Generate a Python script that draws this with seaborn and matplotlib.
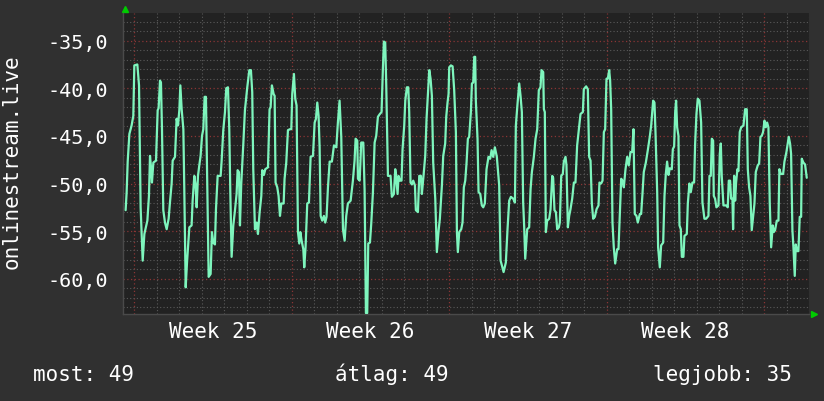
import matplotlib
matplotlib.use("Agg")
import matplotlib.pyplot as plt
import seaborn as sns
import pandas as pd
from matplotlib.ticker import MultipleLocator, FuncFormatter, FixedLocator

# hours since Sunday 12:00 before week 25
hours = [
    2.8, 3.9, 5.0, 6.8, 9.2, 11.0, 12.1, 15.3, 17.1, 18.8, 21.0, 22.8, 26.0, 27.7, 28.8, 29.9, 30.9, 32.4, 35.2,
    37.0, 38.0, 39.5, 40.5, 41.6, 43.0, 44.8, 46.6, 48.7, 50.1, 51.9, 53.0, 55.5, 57.2, 58.7, 60.1, 61.2, 62.6,
    64.4, 65.4, 66.9, 68.3, 70.8, 73.2, 74.3, 76.1, 77.5, 78.6, 80.0, 81.4, 82.8, 84.3, 85.7, 87.1, 88.5, 90.0,
    91.4, 93.5, 94.9, 96.4, 98.1, 99.2, 101.0, 104.2, 105.2, 107.0, 108.8, 110.2, 112.0, 113.4, 114.5, 115.9,
    117.7, 119.5, 121.2, 122.3, 123.7, 124.8, 126.2, 128.4, 130.1, 132.6, 134.8, 136.5, 137.9, 139.0, 140.8, 142.6,
    144.0, 145.8, 147.6, 148.6, 150.4, 151.8, 154.7, 156.4, 157.5, 158.9, 160.7, 161.8, 162.8, 164.6, 166.0,
    167.5, 168.9, 171.4, 172.4, 174.2, 176.0, 178.1, 179.6, 180.6, 182.4, 183.8, 185.2, 186.7, 188.1, 189.2,
    190.6, 192.4, 193.4, 194.8, 196.6, 198.4, 200.2, 202.7, 204.5, 205.9, 207.3, 208.7, 209.8, 210.9, 212.6,
    214.4, 215.8, 217.2, 218.7, 220.5, 222.9, 225.1, 227.6, 229.3, 231.1, 232.9, 234.7, 236.5, 238.2, 240.0,
    242.9, 245.3, 247.1, 248.2, 250.0, 250.7, 252.5, 254.2, 256.4, 257.8, 259.2, 260.6, 261.7, 263.5, 264.9,
    266.7, 268.5, 270.2, 272.0, 274.1, 275.9, 277.3, 278.4, 279.8, 280.9, 282.7, 285.5, 286.9, 289.1, 290.5,
    291.2, 293.0, 294.0, 295.5, 297.2, 298.3, 300.1, 301.2, 302.9, 304.4, 305.4, 306.8, 308.3, 309.7, 311.5,
    312.5, 314.7, 316.1, 317.9, 318.9, 320.4, 322.5, 323.9, 325.3, 326.8, 328.2, 329.6, 331.0, 333.2, 334.9,
    336.7, 338.1, 340.3, 341.7, 343.8, 344.9, 346.3, 347.4, 348.1, 349.9, 351.7, 353.4, 355.2, 356.3, 357.3,
    358.8, 360.9, 362.3, 363.7, 365.2, 366.6, 368.0, 369.4, 371.2, 372.3, 373.7, 374.8, 375.8, 376.5, 378.3,
    379.4, 381.2, 382.9, 384.4, 386.1, 387.9, 390.0, 391.8, 393.3, 395.0, 396.8, 398.9, 401.4, 402.9, 404.3,
    406.1, 408.5, 410.3, 412.1, 413.9, 416.4, 418.2, 419.2, 421.0, 422.8, 424.2, 425.6, 427.0, 428.1, 429.2,
    431.3, 433.4, 434.9, 436.3,
    438.4, 440.2, 442.0, 443.7, 445.5, 446.6, 448.4, 449.1, 450.1, 451.2, 452.6, 454.8, 456.2, 458.0, 459.0,
    460.4, 461.9, 463.3, 465.1, 466.1, 467.6, 469.3, 470.4, 472.2, 473.2, 474.7, 476.1, 477.5, 479.3, 481.1,
    482.8, 484.6, 486.4, 488.2, 490.7, 491.7, 494.2, 496.0, 497.4, 498.9, 500.3, 501.7, 503.5, 505.3, 507.4,
    508.4, 510.2, 511.7, 513.1, 514.5, 515.9, 517.3, 518.8, 519.8, 520.9, 522.3, 523.7, 525.2, 527.3, 528.7,
    530.1, 531.6, 533.0, 534.4, 536.2, 538.0, 539.7, 541.5, 543.3, 544.7, 546.1, 547.9, 549.3, 551.5, 552.9,
    554.3, 555.7, 557.9, 560.0, 562.1, 563.6, 565.7, 567.1, 568.2, 570.0, 571.0, 572.8, 574.2, 576.4, 577.8,
    579.2, 580.6, 582.1, 583.5,
    585.6, 586.7, 588.1, 589.2, 590.2, 591.3, 592.7, 593.8, 595.2, 596.3, 598.0, 599.1, 601.6, 602.7, 604.4,
    605.9, 607.6, 609.4, 610.5, 611.9, 613.3, 615.1, 616.9, 618.3, 620.4, 622.2, 624.7, 625.8, 627.2, 628.3,
    629.7, 630.4, 631.8, 633.2, 635.4, 636.8, 637.9, 638.9, 640.7, 643.6, 645.3, 646.4, 647.8, 648.9, 650.3,
    651.0, 652.1, 653.2, 654.2, 655.6, 656.7, 658.1, 659.6, 662.1, 663.8, 665.6, 666.7, 668.1, 669.5, 670.9,
    672.4, 673.8, 675.2, 677.3, 678.8, 680.2, 681.6, 683.0, 684.5, 685.9, 687.3, 688.7, 690.1, 691.6, 693.3,
    694.4, 695.8, 697.6, 699.4, 700.4, 701.9, 704.4, 705.8, 707.9, 709.3, 710.4, 711.8, 712.9, 714.3, 715.4,
    716.8, 717.9, 719.3, 720.7, 722.1, 723.6, 724.3, 726.0, 727.8, 729.6,
]
values = [
    -52.8, -50.9, -47.7, -44.8, -43.9, -42.9, -37.6, -37.5, -39.7, -52.5, -58.1, -55.3, -53.9, -51.3, -47.1, -48.3, -49.9, -47.8, -47.6,
    -42.3, -42.1, -39.2, -39.4, -44.3, -52.8, -54.1, -54.8, -53.7, -52.0, -50.0, -47.6, -47.2, -43.2, -43.9, -42.3, -39.7, -42.2,
    -44.3, -50.6, -60.9, -58.3, -54.6, -54.4, -51.8, -49.2, -50.2, -52.5, -49.2, -48.1, -47.1, -45.0, -44.3, -40.9, -40.9, -50.4,
    -59.8, -59.5, -55.1, -56.2, -56.4, -52.7, -49.2, -49.2, -47.7, -44.4, -42.5, -40.0, -39.9, -44.3, -50.9, -57.7,
    -54.4, -52.8, -51.1, -48.6, -48.8, -54.4, -50.0, -45.8, -42.3, -39.9, -38.1, -38.1, -40.4, -48.5, -54.8, -54.1,
    -55.3, -53.0, -51.3, -48.6, -49.1, -48.5, -48.3, -42.2, -42.0, -39.7, -40.6, -40.8, -49.9, -50.4, -51.3,
    -53.4, -52.1, -52.1, -49.5, -47.8, -44.4, -44.3, -44.3, -40.6, -38.5, -41.1, -41.8, -55.1, -56.3, -55.1,
    -56.0, -56.9, -58.8, -56.7, -52.1, -52.0, -47.2, -47.1, -43.6, -43.2, -41.5, -42.9, -46.2, -53.4, -53.9,
    -53.4, -54.1, -53.5, -50.4, -47.7, -47.7, -46.0, -46.2, -43.6, -41.3, -45.1, -54.8, -56.0, -53.4, -52.1,
    -51.8, -49.7, -47.6, -45.3, -45.5, -49.5, -49.7, -45.7, -45.7, -50.7, -63.6, -63.6, -56.3, -56.2, -54.2,
    -50.9, -45.7, -45.0, -43.0, -42.7, -42.5, -38.0, -35.1, -35.2, -39.7, -49.2, -49.2, -51.4, -51.1, -48.5,
    -49.0, -51.1, -49.2, -49.7, -49.7, -46.4, -43.9, -41.3, -39.9, -39.9, -42.5, -49.9, -50.1, -49.7, -50.2,
    -52.8, -53.0, -49.2, -49.2, -51.1, -49.5, -47.1, -43.2, -40.8, -38.1, -39.0, -40.8, -47.8, -51.6, -57.2,
    -55.0, -53.7, -50.2, -47.1, -45.8, -43.0, -41.5, -40.6, -37.8, -37.6, -37.7, -40.2, -44.6, -55.1, -57.2,
    -55.1, -54.8, -54.1, -50.4, -49.7, -47.8, -45.3, -45.1, -42.5, -39.5, -39.4, -36.7, -36.7, -41.3, -45.3,
    -50.9, -51.1, -52.3, -52.5, -52.1, -48.5, -47.2, -47.4, -46.5, -47.2, -46.2, -47.2, -50.2, -58.1, -58.6,
    -59.3, -58.3, -54.8, -51.8, -51.4, -51.6, -52.0, -43.9, -41.6, -39.5, -40.8, -42.5, -52.0, -54.6, -57.9,
    -54.8, -54.6, -50.6, -48.8,
    -47.2, -45.3, -44.3, -40.2, -39.9, -38.1, -38.3, -42.2, -42.5, -55.1, -53.9, -53.7, -52.7, -49.2, -49.4,
    -52.8, -53.0, -54.8, -54.6, -54.1, -49.2, -49.0, -47.7, -47.2, -48.1, -54.6, -53.4, -52.7, -51.6, -49.9,
    -49.9, -46.0, -44.4, -42.7, -42.5, -40.1, -39.8, -40.1, -47.2, -47.6, -52.1, -53.7, -53.5, -52.7, -52.3,
    -49.9, -50.0, -49.7, -44.6, -44.3, -39.0, -39.0, -38.1, -39.2, -42.2, -54.1, -56.7, -58.4, -56.9, -56.9,
    -53.4, -49.5, -49.7, -50.4, -48.5, -47.2, -48.1, -46.7, -46.7, -44.3, -53.2, -53.4, -54.1, -53.2, -53.2,
    -51.1, -48.8, -47.8, -46.5, -45.1, -43.9, -41.3, -41.5, -44.6, -50.9, -56.7, -58.8, -56.5, -56.2, -51.3,
    -49.0, -47.7, -49.1, -48.4,
    -48.5, -46.4, -46.1, -42.5, -41.3, -44.1, -45.0, -54.4, -54.8, -57.7, -57.7, -55.5, -55.3, -52.1, -50.0,
    -50.9, -49.9, -49.9, -45.8, -42.7, -41.1, -41.3, -43.6, -52.0, -53.7, -53.7, -53.4, -49.2, -49.2, -45.3,
    -45.5, -51.3, -51.6, -52.5, -52.3, -46.9, -45.8, -49.2, -52.3, -52.3, -52.5, -49.7, -49.7, -51.6, -51.6,
    -54.8, -49.2, -51.8, -49.9, -48.5, -48.7, -44.6, -44.1, -43.9, -42.2, -42.2, -48.5, -50.4, -51.3, -54.9,
    -53.4, -52.1, -48.8, -48.1, -47.9, -45.1, -45.0, -44.6, -43.4, -44.1, -43.6, -44.1, -52.0, -56.7, -54.4,
    -55.1, -54.9, -53.9, -53.9, -48.5, -49.0, -49.0, -47.7, -46.7, -45.8, -45.1, -45.8, -46.9, -54.9, -56.7,
    -59.7, -56.4, -57.1, -57.1, -53.5, -53.5, -47.4, -47.8, -48.0, -49.4,
]

week_names = ["Week 25", "Week 26", "Week 27", "Week 28"]
week_starts = [12, 180, 348, 516, 684]
x_end = 732
y_lo, y_hi = -63.7, -32.1
series_name = "onlinestream.live"
summary = [("most", 49), ("átlag", 49), ("legjobb", 35)]

df = pd.DataFrame({"hours": hours, "value": values})

sns.set_style("dark", rc={"axes.facecolor": "#222222", "figure.facecolor": "#303030",
                          "text.color": "white", "xtick.color": "white", "ytick.color": "white"})
plt.rcParams["font.family"] = ["DejaVu Sans Mono"]

W, H = 824, 402
fig = plt.figure(figsize=(W / 100, H / 100), dpi=100, facecolor="#303030")
ax = fig.add_axes([123 / W, 1 - 315 / H, 686 / W, 301 / H])
ax.set_facecolor("#222222")

sns.lineplot(data=df, x="hours", y="value", ax=ax, color="#7ef5bd", lw=1.6,
             estimator=None, sort=False, zorder=5)

ax.set_xlim(0, x_end)
ax.set_ylim(y_lo, y_hi)

# grid: gray dotted for days / units, red dotted for weeks / 5 units
ax.xaxis.set_major_locator(FixedLocator(week_starts))
ax.xaxis.set_minor_locator(MultipleLocator(24, offset=12))
ax.yaxis.set_major_locator(MultipleLocator(5))
ax.yaxis.set_minor_locator(MultipleLocator(1))
ax.grid(True, which="minor", color="#5a5a5a", ls=(0, (1, 2)), lw=0.8)
ax.grid(True, which="major", color="#8a3535", ls=(0, (1, 2)), lw=0.9)
ax.set_axisbelow(True)

ax.set_xticklabels([])
ax.tick_params(axis="x", which="major", length=3, color="#8a3535", direction="out")
ax.tick_params(axis="x", which="minor", length=3, color="#666666", direction="out")
ax.tick_params(axis="y", which="both", length=0, pad=11, labelsize=14.5, labelcolor="white")
ax.yaxis.set_major_formatter(FuncFormatter(lambda v, p: f"{v:.1f}".replace(".", ",")))

for i, name in enumerate(week_names):
    mid = (week_starts[i] + week_starts[i + 1]) / 2
    ax.text(mid, -0.078, name, transform=ax.get_xaxis_transform(), ha="center",
            va="baseline", fontsize=15, color="white")

for s in ["top", "right"]:
    ax.spines[s].set_visible(False)
for s in ["left", "bottom"]:
    ax.spines[s].set_color("#4a4a4a")
    ax.spines[s].set_linewidth(1.0)

# rrd style arrows
ax.plot([0.003], [1.013], marker="^", color="#00cc00", ms=5, transform=ax.transAxes, clip_on=False)
ax.plot([1.008], [0.0], marker=">", color="#00cc00", ms=5, transform=ax.transAxes, clip_on=False)

ax.set_xlabel("")
ax.set_ylabel("")
fig.text(12 / W, 1 - 162 / H, series_name, rotation=90, ha="center", va="center",
         fontsize=15, color="white")

fig.text(33 / W, 1 - 381 / H, f"{summary[0][0]}: {summary[0][1]}", ha="left", va="baseline",
         fontsize=15, color="white")
fig.text(335 / W, 1 - 381 / H, f"{summary[1][0]}: {summary[1][1]}", ha="left", va="baseline",
         fontsize=15, color="white")
fig.text(792 / W, 1 - 381 / H, f"{summary[2][0]}: {summary[2][1]}", ha="right", va="baseline",
         fontsize=15, color="white")

fig.savefig("out.png", dpi=100, facecolor=fig.get_facecolor())
